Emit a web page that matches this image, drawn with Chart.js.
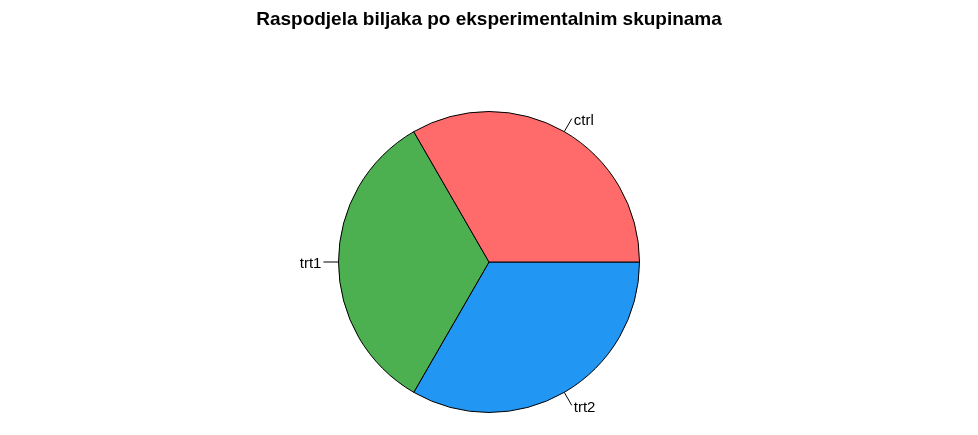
<!DOCTYPE html>
<html>
<head>
<meta charset="utf-8">
<script src="https://cdn.jsdelivr.net/npm/chart.js@4"></script>
<style>
html,body{margin:0;padding:0;background:#fff;}
canvas{display:block;}
</style>
</head>
<body>
<canvas id="c" width="978" height="435"></canvas>
<script>
const titleText = 'Raspodjela biljaka po eksperimentalnim skupinama';
const categories = ['ctrl', 'trt1', 'trt2'];
const counts = [10, 10, 10];
const colors = ['#FF6B6B', '#4CAF50', '#2196F3'];

// R draws counter-clockwise from 3 o'clock; Chart.js draws clockwise, so reverse.
const order = categories.map((_, i) => i).reverse();

const outsideLabels = {
  id: 'outsideLabels',
  afterDatasetsDraw(chart) {
    const ctx = chart.ctx;
    const meta = chart.getDatasetMeta(0);
    ctx.save();
    meta.data.forEach((arc, i) => {
      const mid = (arc.startAngle + arc.endAngle) / 2;
      const r = arc.outerRadius;
      const cx = arc.x, cy = arc.y;
      const c = Math.cos(mid), s = Math.sin(mid);
      ctx.beginPath();
      ctx.strokeStyle = '#000';
      ctx.lineWidth = 1;
      ctx.moveTo(cx + r * c, cy + r * s);
      ctx.lineTo(cx + r * 1.1 * c, cy + r * 1.1 * s);
      ctx.stroke();
      ctx.font = '15px "Liberation Sans", Arial, sans-serif';
      ctx.fillStyle = '#000';
      ctx.textBaseline = 'middle';
      ctx.textAlign = c >= 0 ? 'left' : 'right';
      const off = c >= 0 ? 2 : -2;
      ctx.fillText(chart.data.labels[i], cx + r * 1.1 * c + off, cy + r * 1.1 * s + 2);
    });
    ctx.font = 'bold 19px "Liberation Sans", Arial, sans-serif';
    ctx.textAlign = 'center';
    ctx.textBaseline = 'middle';
    ctx.fillStyle = '#000';
    ctx.fillText(titleText, 489, 20);
    ctx.restore();
  }
};

new Chart(document.getElementById('c'), {
  type: 'pie',
  data: {
    labels: order.map(i => categories[i]),
    datasets: [{
      data: order.map(i => counts[i]),
      backgroundColor: order.map(i => colors[i]),
      borderColor: '#000',
      borderWidth: 1,
      hoverOffset: 0
    }]
  },
  options: {
    responsive: false,
    animation: false,
    rotation: 90,
    layout: { padding: { top: 111, bottom: 22, left: 0, right: 0 } },
    plugins: {
      legend: { display: false },
      title: { display: false },
      tooltip: { enabled: false }
    },
    events: []
  },
  plugins: [outsideLabels]
});
</script>
</body>
</html>
